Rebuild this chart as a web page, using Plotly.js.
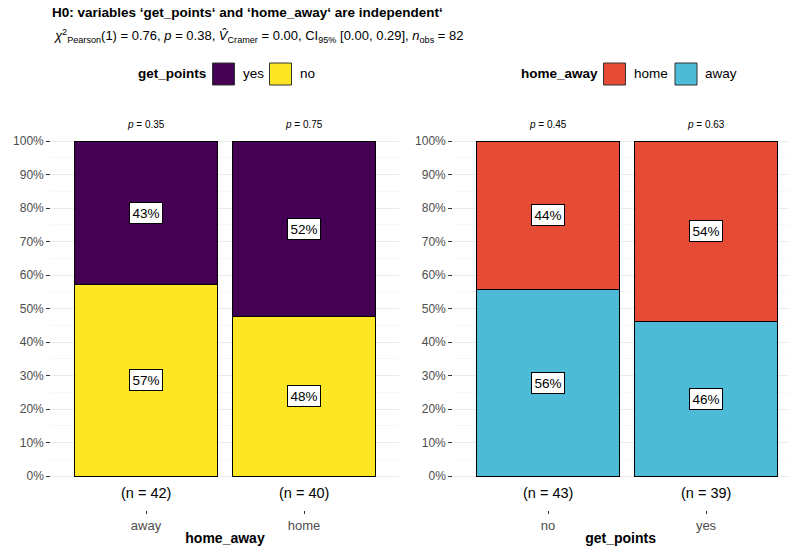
<!DOCTYPE html>
<html>
<head>
<meta charset="utf-8">
<script src="https://cdn.plot.ly/plotly-3.0.1.min.js"></script>
<style>
  html, body { margin: 0; padding: 0; background: #fff; }
  #chart { width: 788px; height: 546px; }
</style>
</head>
<body>
<div id="chart"></div>
<script>
// Contingency counts: get_points x home_away
const homeAwayCats = ['away', 'home'];
const yesByHomeAway = [18, 21];
const noByHomeAway = [24, 19];
const pValuesHomeAway = ['0.35', '0.75'];

const getPointsCats = ['no', 'yes'];
const homeByGetPoints = [19, 21];
const awayByGetPoints = [24, 18];
const pValuesGetPoints = ['0.45', '0.63'];

const W = 788, H = 546;
const px = x => x / W;
const py = y => 1 - y / H;

const FONT = 'Liberation Sans, Arial, Helvetica, sans-serif';
const C = { yes: '#440154', no: '#FDE725', home: '#E64B35', away: '#4DBBD5' };

// round half to even (52.5 -> 52, 47.5 -> 48)
function roundHalfEven(v) {
  const f = Math.floor(v);
  const d = v - f;
  if (Math.abs(d - 0.5) < 1e-9) return f % 2 === 0 ? f : f + 1;
  return Math.round(v);
}

function shares(bottom, top) {
  const n = bottom.map((b, i) => b + top[i]);
  return {
    n,
    bottom: bottom.map((b, i) => b / n[i]),
    top: top.map((t, i) => t / n[i])
  };
}

const left = shares(noByHomeAway, yesByHomeAway);
const right = shares(awayByGetPoints, homeByGetPoints);

function barTrace(cats, vals, color, name, xa, ya) {
  return {
    type: 'bar', x: cats, y: vals, name,
    xaxis: xa, yaxis: ya, width: 0.9,
    marker: { color, line: { color: '#000', width: 1 } },
    hoverinfo: 'x+y+name', showlegend: false
  };
}

const data = [
  barTrace(homeAwayCats, left.bottom, C.no, 'no', 'x', 'y'),
  barTrace(homeAwayCats, left.top, C.yes, 'yes', 'x', 'y'),
  barTrace(getPointsCats, right.bottom, C.away, 'away', 'x2', 'y2'),
  barTrace(getPointsCats, right.top, C.home, 'home', 'x2', 'y2')
];

const annotations = [];
function panelLabels(cats, s, pv, xr, yr) {
  cats.forEach((c, i) => {
    [[s.bottom[i] / 2, s.bottom[i]], [s.bottom[i] + s.top[i] / 2, s.top[i]]].forEach(([pos, v]) => {
      annotations.push({
        xref: xr, yref: yr, x: c, y: pos, text: roundHalfEven(v * 100) + '%',
        showarrow: false, bgcolor: '#fff', bordercolor: '#000', borderwidth: 1, borderpad: 2.5,
        font: { family: FONT, size: 13.5, color: '#000' }
      });
    });
    annotations.push({
      xref: xr, yref: yr, x: c, y: -0.05, text: '(n = ' + s.n[i] + ')',
      showarrow: false, font: { family: FONT, size: 14.5, color: '#000' }
    });
    annotations.push({
      xref: xr, yref: yr, x: c, y: 1.05, text: '<i>p</i> = ' + pv[i],
      showarrow: false, font: { family: FONT, size: 10, color: '#000' }
    });
  });
}
panelLabels(homeAwayCats, left, pValuesHomeAway, 'x', 'y');
panelLabels(getPointsCats, right, pValuesGetPoints, 'x2', 'y2');

// subtitle with the test statistics
annotations.push({
  xref: 'paper', yref: 'paper', x: px(52), y: py(36), xanchor: 'left', yanchor: 'middle',
  showarrow: false,
  text: '<i>χ</i><sup>2</sup><sub>Pearson</sub>(1) = 0.76, <i>p</i> = 0.38, <i>V̂</i><sub>Cramer</sub> = 0.00, CI<sub>95%</sub> [0.00, 0.29], <i>n</i><sub>obs</sub> = 82',
  font: { family: FONT, size: 13, color: '#000' }
});

// legends
const shapes = [];
function legendBlock(title, titleX, items) {
  annotations.push({
    xref: 'paper', yref: 'paper', x: px(titleX), y: py(74), xanchor: 'left', yanchor: 'middle',
    showarrow: false, text: '<b>' + title + '</b>', font: { family: FONT, size: 13.5, color: '#000' }
  });
  items.forEach(it => {
    shapes.push({
      type: 'rect', xref: 'paper', yref: 'paper',
      x0: px(it.bx), x1: px(it.bx + 22), y0: py(85), y1: py(63),
      fillcolor: it.color, line: { color: '#333', width: 1 }
    });
    annotations.push({
      xref: 'paper', yref: 'paper', x: px(it.bx + 28), y: py(74), xanchor: 'left', yanchor: 'middle',
      showarrow: false, text: it.label, font: { family: FONT, size: 13.5, color: '#000' }
    });
  });
}
legendBlock('get_points', 136, [{ bx: 212.5, color: C.yes, label: 'yes' }, { bx: 269.5, color: C.no, label: 'no' }]);
legendBlock('home_away', 519, [{ bx: 603.5, color: C.home, label: 'home' }, { bx: 675, color: C.away, label: 'away' }]);

const yTickVals = [0, 0.1, 0.2, 0.3, 0.4, 0.5, 0.6, 0.7, 0.8, 0.9, 1];
const yTickText = yTickVals.map(v => Math.round(v * 100) + '%');
const yMinor = [0.05, 0.15, 0.25, 0.35, 0.45, 0.55, 0.65, 0.75, 0.85, 0.95];

function yAxis(anchor) {
  return {
    anchor, domain: [py(510), py(120.9)], range: [-0.1015, 1.06],
    tickmode: 'array', tickvals: yTickVals, ticktext: yTickText,
    ticks: 'outside', ticklen: 4, tickcolor: '#333', tickwidth: 1,
    tickfont: { family: FONT, size: 12, color: '#4d4d4d' },
    showgrid: true, gridcolor: '#ebebeb', gridwidth: 1,
    minor: { tickmode: 'array', tickvals: yMinor, showgrid: true, gridcolor: '#f2f2f2', gridwidth: 0.6, ticks: '' },
    zeroline: false, showline: false, fixedrange: true
  };
}
function xAxis(anchor, domain, range, cats, title) {
  return {
    anchor, domain, range, type: 'category', categoryorder: 'array', categoryarray: cats,
    ticks: 'outside', ticklen: 3, tickcolor: '#333', tickwidth: 1,
    tickfont: { family: FONT, size: 13, color: '#4d4d4d' },
    showgrid: false, zeroline: false, showline: false, fixedrange: true,
    title: { text: '<b>' + title + '</b>', font: { family: FONT, size: 14, color: '#000' }, standoff: 2 }
  };
}

const layout = {
  width: W, height: H,
  margin: { l: 0, r: 0, t: 0, b: 0 },
  paper_bgcolor: '#fff', plot_bgcolor: 'rgba(0,0,0,0)',
  barmode: 'stack', bargap: 0.1,
  font: { family: FONT },
  title: {
    text: '<b>H0: variables ‘get_points‘ and ‘home_away‘ are independent‘</b>',
    x: px(52), xanchor: 'left', xref: 'paper', y: py(12), yanchor: 'middle', yref: 'paper',
    font: { family: FONT, size: 13.5, color: '#000' }
  },
  xaxis: xAxis('y', [px(51.2), px(398.8)], [-0.6, 1.6], homeAwayCats, 'home_away'),
  yaxis: yAxis('x'),
  xaxis2: xAxis('y2', [px(453.2), 1], [-0.6, 1.519], getPointsCats, 'get_points'),
  yaxis2: yAxis('x2'),
  annotations, shapes,
  showlegend: false
};

Plotly.newPlot('chart', data, layout, { displayModeBar: false, staticPlot: true });
</script>
</body>
</html>
